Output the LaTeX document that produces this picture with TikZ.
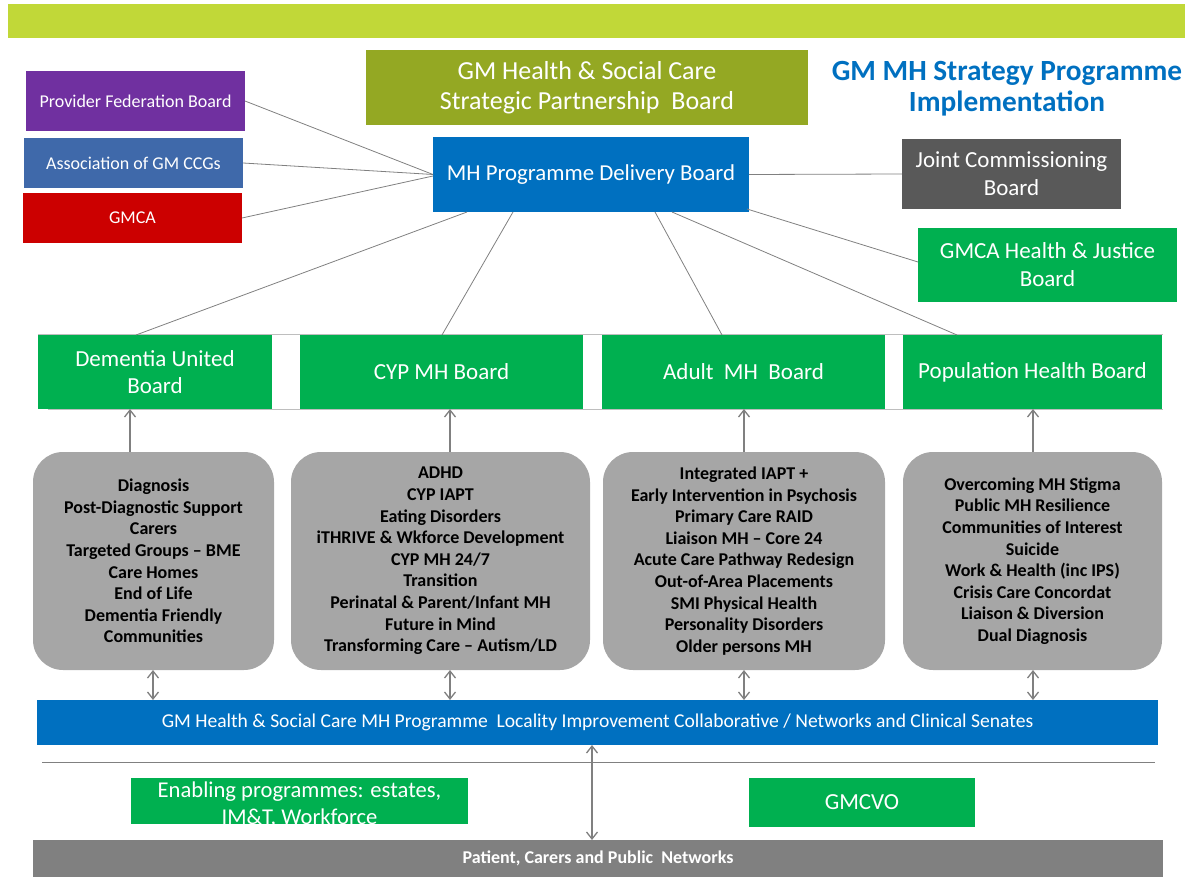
\documentclass[tikz,border=0pt]{standalone}
\usepackage{fontspec}
\setmainfont{Carlito}
\usetikzlibrary{arrows.meta,calc}
\definecolor{barlime}{RGB}{193,216,56}
\definecolor{olive}{RGB}{148,168,35}
\definecolor{provpurple}{RGB}{112,48,160}
\definecolor{ccgblue}{RGB}{63,105,170}
\definecolor{gmcared}{RGB}{204,0,0}
\definecolor{mhblue}{RGB}{0,112,192}
\definecolor{darkgrey}{RGB}{89,89,89}
\definecolor{boardgreen}{RGB}{0,176,80}
\definecolor{workgrey}{RGB}{166,166,166}
\definecolor{netgrey}{RGB}{128,128,128}
\definecolor{linkgrey}{RGB}{128,128,128}
\definecolor{rulegrey}{RGB}{190,190,190}
\newcommand\fsz[2]{\fontsize{#1}{#2}\selectfont}
\begin{document}
\begin{tikzpicture}[x=1pt,y=-1pt,
  blk/.style={inner sep=0pt, outer sep=0pt, text=white, align=center},
  board/.style={blk, fill=boardgreen, minimum height=74pt, font=\fsz{23}{27}},
  work/.style={inner sep=0pt, outer sep=0pt, fill=workgrey, rounded corners=30pt,
    minimum height=218pt, align=center, font=\bfseries\fsz{18}{21.6}},
  link/.style={draw=linkgrey, line width=0.8pt},
  rulel/.style={draw=rulegrey, line width=1pt},
  uparr/.style={draw=netgrey, line width=1.3pt, -{Straight Barb[length=7pt,width=11pt]}},
  duparr/.style={draw=netgrey, line width=1.3pt, {Straight Barb[length=7pt,width=11pt]}-{Straight Barb[length=7pt,width=11pt]}}]
\useasboundingbox (0,0) rectangle (1193,877);

% top banner
\node[blk, fill=barlime, minimum width=1177pt, minimum height=34pt] (banner) at (596.5,21) {};

% governance tier
\node[blk, fill=olive, minimum width=442pt, minimum height=75pt, font=\fsz{26}{30}] (spb) at (587,88)
  {GM Health \& Social Care\\Strategic Partnership~~Board};
\node[align=center, text=mhblue, font=\bfseries\fsz{29.3}{31}] (title) at (1007,89)
  {GM MH Strategy Programme\\Implementation};

\node[blk, fill=provpurple, minimum width=219pt, minimum height=60pt, font=\fsz{18}{20}] (pfb) at (135.5,101) {Provider Federation Board};
\node[blk, fill=ccgblue, minimum width=219pt, minimum height=50pt, font=\fsz{18}{20}] (ccg) at (133.5,163) {Association of GM CCGs};
\node[blk, fill=gmcared, minimum width=219pt, minimum height=50pt, font=\fsz{18}{20}] (gmca) at (132.5,218) {GMCA};

\node[blk, fill=mhblue, minimum width=316pt, minimum height=75pt, font=\fsz{22.8}{28}] (pdb) at (591,174.5) {MH Programme Delivery Board};
\node[blk, fill=darkgrey, minimum width=219pt, minimum height=70pt, font=\fsz{23}{28}] (jcb) at (1011.5,174) {Joint Commissioning\\Board};
\node[blk, fill=boardgreen, minimum width=259pt, minimum height=74pt, font=\fsz{23}{28}] (hjb) at (1047.5,265) {GMCA Health \& Justice\\Board};

% programme boards
\draw[rulel] (38,334) -- (1163,334);
\draw[rulel] (48,409) -- (1163,409);
\node[board, minimum width=234pt] (dem) at (155,372) {Dementia United\\Board};
\node[board, minimum width=283pt] (cyp) at (441.5,372) {CYP MH Board};
\node[board, minimum width=283pt] (adult) at (743.5,372) {Adult~~MH~~Board};
\node[board, minimum width=259pt] (pop) at (1032.5,372) {Population Health Board};

% links to the delivery board
\draw[link] (pfb.east) -- (pdb.west);
\draw[link] (ccg.east) -- (pdb.west);
\draw[link] (gmca.east) -- ($(pdb.west)+(0,1.5)$);
\draw[link] (pdb.east) -- (jcb.west);
\draw[link] ($(pdb.south west)+(34,0)$) -- (dem.north -| 136,0);
\draw[link] ($(pdb.south west)+(80,0)$) -- (cyp.north -| 442,0);
\draw[link] ($(pdb.south west)+(222,0)$) -- (adult.north -| 722,0);
\draw[link] ($(pdb.south west)+(239,0)$) -- (pop.north -| 957,0);
\draw[link] ($(pdb.south east)+(-2,-3)$) -- ($(hjb.west)+(0,-3)$);

% workstreams
\node[work, minimum width=241pt] (w1) at (153.5,561)
  {Diagnosis\\Post-Diagnostic Support\\Carers\\Targeted Groups -- BME\\Care Homes\\End of Life\\Dementia Friendly\\Communities};
\node[work, minimum width=299pt] (w2) at (440.5,561)
  {ADHD\\CYP IAPT\\Eating Disorders\\iTHRIVE \& Wkforce Development\\CYP MH 24/7\\Transition\\Perinatal \& Parent/Infant MH\\Future in Mind\\Transforming Care -- Autism/LD};
\node[work, minimum width=282pt] (w3) at (744,561)
  {Integrated IAPT +\\Early Intervention in Psychosis\\Primary Care RAID\\Liaison MH -- Core 24\\Acute Care Pathway Redesign\\Out-of-Area Placements\\SMI Physical Health\\Personality Disorders\\Older persons MH};
\node[work, minimum width=259pt] (w4) at (1032.5,561)
  {Overcoming MH Stigma\\Public MH Resilience\\Communities of Interest\\Suicide\\Work \& Health (inc IPS)\\Crisis Care Concordat\\Liaison \& Diversion\\Dual Diagnosis};

\draw[uparr] (w1.north -| 130,0) -- (dem.south -| 130,0);
\draw[uparr] (w2.north -| 450,0) -- (cyp.south -| 450,0);
\draw[uparr] (w3.north -| 744,0) -- (adult.south -| 744,0);
\draw[uparr] (w4.north -| 1033,0) -- (pop.south -| 1033,0);

% locality band
\node[blk, fill=mhblue, minimum width=1121pt, minimum height=45pt, font=\fsz{19.6}{22}] (band) at (597.5,722.5)
  {GM Health \& Social Care MH Programme~~Locality Improvement Collaborative / Networks and Clinical Senates};

\draw[duparr] (w1.south -| 153,0) -- (band.north -| 153,0);
\draw[duparr] (w2.south -| 450,0) -- (band.north -| 450,0);
\draw[duparr] (w3.south -| 744,0) -- (band.north -| 744,0);
\draw[duparr] (w4.south -| 1033,0) -- (band.north -| 1033,0);

\draw[rulel, draw=linkgrey] (42,762) -- (1155,762);

% enablers
\fill[boardgreen] (131,778) rectangle (468,824);
\node[blk, font=\fsz{22.6}{27}] (enab) at (299.5,804.5) {Enabling programmes: estates,\\IM\&T, Workforce};
\node[blk, fill=boardgreen, minimum width=226pt, minimum height=49pt, font=\fsz{23}{27}] (gmcvo) at (862,802.5) {GMCVO};

% public networks
\node[blk, fill=netgrey, minimum width=1130pt, minimum height=37pt, font=\bfseries\fsz{18}{20}] (pub) at (598,858.5)
  {Patient, Carers and Public~~Networks};
\draw[duparr] (band.south -| 592,0) -- (pub.north -| 592,0);
\end{tikzpicture}
\end{document}
